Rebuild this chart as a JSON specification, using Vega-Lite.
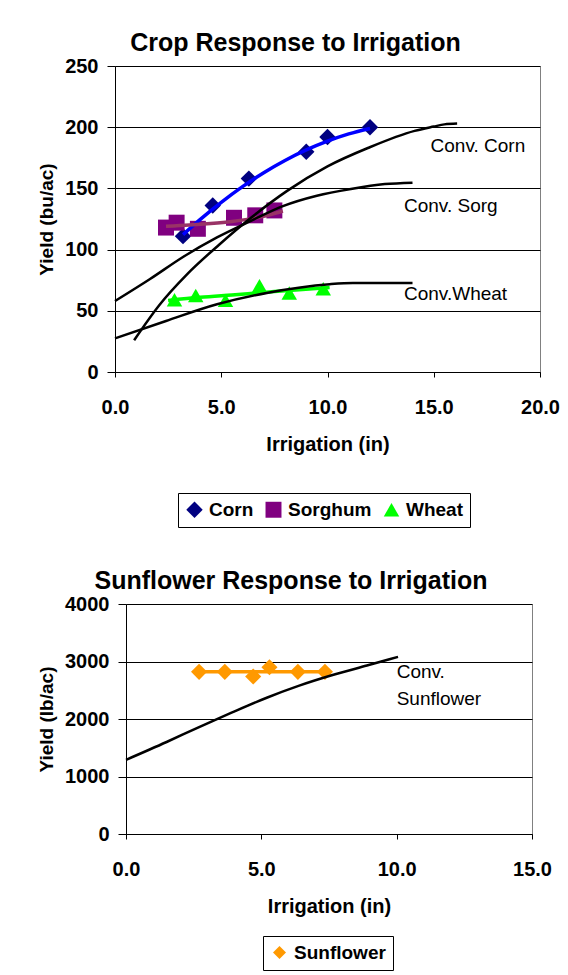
{
  "$schema": "https://vega.github.io/schema/vega-lite/v6.json",
  "background": "white",
  "padding": {"left": 36, "top": 30, "right": 5, "bottom": 5},
  "spacing": 40,
  "config": {
    "font": "Liberation Sans",
    "view": {"stroke": "#808080", "strokeWidth": 1},
    "axis": {
      "labelFont": "Liberation Sans", "labelFontSize": 20, "labelFontWeight": "bold", "labelColor": "black",
      "titleFont": "Liberation Sans", "titleFontSize": 19, "titleFontWeight": "bold", "titleColor": "black",
      "domainColor": "black", "tickColor": "black", "gridColor": "black", "gridOpacity": 1, "gridWidth": 1,
      "labelFlush": false, "labelOverlap": false
    },
    "axisX": {"titleFontSize": 20},
    "title": {"font": "Liberation Sans", "fontSize": 25, "fontWeight": "bold", "color": "black", "anchor": "middle"},
    "legend": {
      "strokeColor": "black", "fillColor": "white", "padding": 7, "labelFont": "Liberation Sans",
      "labelFontSize": 19, "labelFontWeight": "bold", "labelColor": "black", "symbolSize": 170,
      "labelOffset": 5, "columnPadding": 10, "symbolStrokeWidth": 0, "symbolOpacity": 1
    }
  },
  "datasets": {
    "cropPoints": [
      {"crop": "Corn", "irrigation": 3.2, "yield": 111},
      {"crop": "Corn", "irrigation": 4.6, "yield": 136},
      {"crop": "Corn", "irrigation": 6.3, "yield": 158},
      {"crop": "Corn", "irrigation": 9.0, "yield": 180},
      {"crop": "Corn", "irrigation": 10.0, "yield": 192},
      {"crop": "Corn", "irrigation": 12.0, "yield": 200},
      {"crop": "Sorghum", "irrigation": 2.4, "yield": 118},
      {"crop": "Sorghum", "irrigation": 2.9, "yield": 122},
      {"crop": "Sorghum", "irrigation": 3.9, "yield": 117},
      {"crop": "Sorghum", "irrigation": 5.6, "yield": 126},
      {"crop": "Sorghum", "irrigation": 6.6, "yield": 128},
      {"crop": "Sorghum", "irrigation": 7.5, "yield": 132},
      {"crop": "Wheat", "irrigation": 2.8, "yield": 59},
      {"crop": "Wheat", "irrigation": 3.8, "yield": 62.5},
      {"crop": "Wheat", "irrigation": 5.2, "yield": 58.5},
      {"crop": "Wheat", "irrigation": 6.8, "yield": 70.5},
      {"crop": "Wheat", "irrigation": 8.2, "yield": 64.5},
      {"crop": "Wheat", "irrigation": 9.8, "yield": 68}
    ],
    "cropFits": [
      {"crop": "Corn", "irrigation": 3.2, "yield": 112.2},
      {"crop": "Corn", "irrigation": 4, "yield": 124.5},
      {"crop": "Corn", "irrigation": 5, "yield": 138.6},
      {"crop": "Corn", "irrigation": 6, "yield": 151.4},
      {"crop": "Corn", "irrigation": 7, "yield": 162.8},
      {"crop": "Corn", "irrigation": 8, "yield": 172.8},
      {"crop": "Corn", "irrigation": 9, "yield": 181.4},
      {"crop": "Corn", "irrigation": 10, "yield": 188.6},
      {"crop": "Corn", "irrigation": 11, "yield": 194.5},
      {"crop": "Corn", "irrigation": 12, "yield": 199.0},
      {"crop": "Sorghum", "irrigation": 2.4, "yield": 119},
      {"crop": "Sorghum", "irrigation": 3.5, "yield": 120},
      {"crop": "Sorghum", "irrigation": 4.5, "yield": 121.3},
      {"crop": "Sorghum", "irrigation": 5.5, "yield": 123},
      {"crop": "Sorghum", "irrigation": 6.5, "yield": 125.5},
      {"crop": "Sorghum", "irrigation": 7.2, "yield": 128},
      {"crop": "Sorghum", "irrigation": 7.9, "yield": 131.5},
      {"crop": "Wheat", "irrigation": 2.5, "yield": 58.5},
      {"crop": "Wheat", "irrigation": 4, "yield": 61},
      {"crop": "Wheat", "irrigation": 5.5, "yield": 63},
      {"crop": "Wheat", "irrigation": 7, "yield": 65},
      {"crop": "Wheat", "irrigation": 8.5, "yield": 67},
      {"crop": "Wheat", "irrigation": 10.1, "yield": 69}
    ],
    "conv": [
      {"curve": "Corn", "irrigation": 0.9, "yield": 26},
      {"curve": "Corn", "irrigation": 2.1, "yield": 55},
      {"curve": "Corn", "irrigation": 3.4, "yield": 80},
      {"curve": "Corn", "irrigation": 4.9, "yield": 104},
      {"curve": "Corn", "irrigation": 6.4, "yield": 126},
      {"curve": "Corn", "irrigation": 8.1, "yield": 148},
      {"curve": "Corn", "irrigation": 10.0, "yield": 168},
      {"curve": "Corn", "irrigation": 11.9, "yield": 183},
      {"curve": "Corn", "irrigation": 14.1, "yield": 197},
      {"curve": "Corn", "irrigation": 15.0, "yield": 200.5},
      {"curve": "Corn", "irrigation": 15.5, "yield": 202.3},
      {"curve": "Corn", "irrigation": 16.1, "yield": 203},
      {"curve": "Sorg", "irrigation": 0, "yield": 58},
      {"curve": "Sorg", "irrigation": 1.65, "yield": 76},
      {"curve": "Sorg", "irrigation": 3.2, "yield": 94},
      {"curve": "Sorg", "irrigation": 4.8, "yield": 110},
      {"curve": "Sorg", "irrigation": 6.4, "yield": 123.5},
      {"curve": "Sorg", "irrigation": 7.9, "yield": 135.5},
      {"curve": "Sorg", "irrigation": 9.5, "yield": 144},
      {"curve": "Sorg", "irrigation": 11.1, "yield": 149.5},
      {"curve": "Sorg", "irrigation": 12.7, "yield": 153.5},
      {"curve": "Sorg", "irrigation": 14.0, "yield": 154.7},
      {"curve": "Wheat", "irrigation": 0, "yield": 27.5},
      {"curve": "Wheat", "irrigation": 2.4, "yield": 41.7},
      {"curve": "Wheat", "irrigation": 4.8, "yield": 55.3},
      {"curve": "Wheat", "irrigation": 7.2, "yield": 64.8},
      {"curve": "Wheat", "irrigation": 10.1, "yield": 71.7},
      {"curve": "Wheat", "irrigation": 11.2, "yield": 72.7},
      {"curve": "Wheat", "irrigation": 14.0, "yield": 72.7}
    ],
    "convLabels": [
      {"label": "Conv. Corn", "irrigation": 14.85, "yield": 185},
      {"label": "Conv. Sorg", "irrigation": 13.6, "yield": 136},
      {"label": "Conv.Wheat", "irrigation": 13.6, "yield": 63.5}
    ],
    "sunPoints": [
      {"crop": "Sunflower", "irrigation": 2.7, "yield": 2820},
      {"crop": "Sunflower", "irrigation": 3.65, "yield": 2820},
      {"crop": "Sunflower", "irrigation": 4.7, "yield": 2740},
      {"crop": "Sunflower", "irrigation": 5.3, "yield": 2900},
      {"crop": "Sunflower", "irrigation": 6.35, "yield": 2820},
      {"crop": "Sunflower", "irrigation": 7.35, "yield": 2820}
    ],
    "sunFit": [
      {"crop": "Sunflower", "irrigation": 2.7, "yield": 2820},
      {"crop": "Sunflower", "irrigation": 7.4, "yield": 2820}
    ],
    "sunConv": [
      {"curve": "Sunflower", "irrigation": 0, "yield": 1290},
      {"curve": "Sunflower", "irrigation": 1.5, "yield": 1600},
      {"curve": "Sunflower", "irrigation": 2.7, "yield": 1860},
      {"curve": "Sunflower", "irrigation": 3.9, "yield": 2110},
      {"curve": "Sunflower", "irrigation": 5.2, "yield": 2370},
      {"curve": "Sunflower", "irrigation": 6.4, "yield": 2580},
      {"curve": "Sunflower", "irrigation": 7.6, "yield": 2760},
      {"curve": "Sunflower", "irrigation": 8.9, "yield": 2930},
      {"curve": "Sunflower", "irrigation": 10.05, "yield": 3080}
    ],
    "sunLabels": [
      {"label": "Conv.", "irrigation": 10.0, "yield": 2810},
      {"label": "Sunflower", "irrigation": 10.0, "yield": 2348}
    ],
    "empty": []
  },
  "vconcat": [
    {
      "spacing": 0,
      "hconcat": [
        {"width": 1, "height": 1, "data": {"name": "empty"}, "mark": {"type": "point", "opacity": 0}, "view": {"stroke": null}},
        {
          "width": 425,
          "height": 306,
          "title": {"text": "Crop Response to Irrigation", "dx": -32, "offset": 0},
          "layer": [
            {
              "data": {"name": "cropPoints"},
              "mark": {"type": "point", "filled": true, "opacity": 1},
              "encoding": {
                "x": {"field": "irrigation", "type": "quantitative", "scale": {"domain": [0, 20], "nice": false},
                  "axis": {"values": [0, 5, 10, 15, 20], "format": ".1f", "title": "Irrigation (in)", "grid": false, "tickSize": 5, "labelPadding": 20, "titlePadding": 17}},
                "y": {"field": "yield", "type": "quantitative", "scale": {"domain": [0, 250], "nice": false},
                  "axis": {"values": [0, 50, 100, 150, 200, 250], "title": "Yield (bu/ac)", "grid": true, "tickSize": 8, "labelPadding": 9, "titlePadding": 8}},
                "color": {"field": "crop", "type": "nominal",
                  "scale": {"domain": ["Corn", "Sorghum", "Wheat"], "range": ["#000080", "#800080", "#00FF00"]},
                  "legend": {"orient": "none", "legendX": 142, "legendY": 427, "direction": "horizontal", "title": null}},
                "shape": {"field": "crop", "type": "nominal",
                  "scale": {"domain": ["Corn", "Sorghum", "Wheat"], "range": ["diamond", "square", "triangle-up"]},
                  "legend": {"orient": "none", "legendX": 142, "legendY": 427, "direction": "horizontal", "title": null}},
                "size": {"field": "crop", "type": "nominal",
                  "scale": {"domain": ["Corn", "Sorghum", "Wheat"], "range": [270, 240, 340]},
                  "legend": null}
              }
            },
            {
              "data": {"name": "cropFits"},
              "mark": {"type": "line", "strokeWidth": 3.5, "interpolate": "monotone"},
              "encoding": {
                "x": {"field": "irrigation", "type": "quantitative"},
                "y": {"field": "yield", "type": "quantitative"},
                "stroke": {"field": "crop", "type": "nominal",
                  "scale": {"domain": ["Corn", "Sorghum", "Wheat"], "range": ["#0000FF", "#993366", "#00FF00"]},
                  "legend": null}
              }
            },
            {
              "data": {"name": "conv"},
              "mark": {"type": "line", "color": "black", "strokeWidth": 2.5, "interpolate": "monotone"},
              "encoding": {
                "x": {"field": "irrigation", "type": "quantitative"},
                "y": {"field": "yield", "type": "quantitative"},
                "detail": {"field": "curve", "type": "nominal"}
              }
            },
            {
              "data": {"name": "convLabels"},
              "mark": {"type": "text", "align": "left", "baseline": "middle", "fontSize": 19, "font": "Liberation Sans", "color": "black"},
              "encoding": {
                "x": {"field": "irrigation", "type": "quantitative"},
                "y": {"field": "yield", "type": "quantitative"},
                "text": {"field": "label", "type": "nominal"}
              }
            }
          ]
        }
      ]
    },
    {
      "spacing": 0,
      "hconcat": [
        {"width": 1, "height": 1, "data": {"name": "empty"}, "mark": {"type": "point", "opacity": 0}, "view": {"stroke": null}},
        {
          "width": 406,
          "height": 230,
          "title": {"text": "Sunflower Response to Irrigation", "dx": -38, "offset": 0},
          "layer": [
            {
              "data": {"name": "sunPoints"},
              "mark": {"type": "point", "filled": true, "opacity": 1, "size": 260},
              "encoding": {
                "x": {"field": "irrigation", "type": "quantitative", "scale": {"domain": [0, 15], "nice": false},
                  "axis": {"values": [0, 5, 10, 15], "format": ".1f", "title": "Irrigation (in)", "grid": false, "tickSize": 5, "labelPadding": 20, "titlePadding": 17}},
                "y": {"field": "yield", "type": "quantitative", "scale": {"domain": [0, 4000], "nice": false},
                  "axis": {"values": [0, 1000, 2000, 3000, 4000], "format": "d", "title": "Yield (lb/ac)", "grid": true, "tickSize": 8, "labelPadding": 9, "titlePadding": 8}},
                "color": {"field": "crop", "type": "nominal",
                  "scale": {"domain": ["Sunflower"], "range": ["#FF9900"]},
                  "legend": {"orient": "none", "legendX": 227, "legendY": 332, "direction": "horizontal", "title": null}},
                "shape": {"field": "crop", "type": "nominal",
                  "scale": {"domain": ["Sunflower"], "range": ["diamond"]},
                  "legend": {"orient": "none", "legendX": 227, "legendY": 332, "direction": "horizontal", "title": null}}
              }
            },
            {
              "data": {"name": "sunFit"},
              "mark": {"type": "line", "strokeWidth": 3.5, "color": "#FF9900"},
              "encoding": {
                "x": {"field": "irrigation", "type": "quantitative"},
                "y": {"field": "yield", "type": "quantitative"}
              }
            },
            {
              "data": {"name": "sunConv"},
              "mark": {"type": "line", "color": "black", "strokeWidth": 2.5, "interpolate": "monotone"},
              "encoding": {
                "x": {"field": "irrigation", "type": "quantitative"},
                "y": {"field": "yield", "type": "quantitative"},
                "detail": {"field": "curve", "type": "nominal"}
              }
            },
            {
              "data": {"name": "sunLabels"},
              "mark": {"type": "text", "align": "left", "baseline": "middle", "fontSize": 19, "font": "Liberation Sans", "color": "black"},
              "encoding": {
                "x": {"field": "irrigation", "type": "quantitative"},
                "y": {"field": "yield", "type": "quantitative"},
                "text": {"field": "label", "type": "nominal"}
              }
            }
          ]
        }
      ]
    }
  ],
  "resolve": {
    "scale": {"x": "independent", "y": "independent", "color": "independent", "shape": "independent", "stroke": "independent", "size": "independent"},
    "legend": {"color": "independent", "shape": "independent"}
  }
}
